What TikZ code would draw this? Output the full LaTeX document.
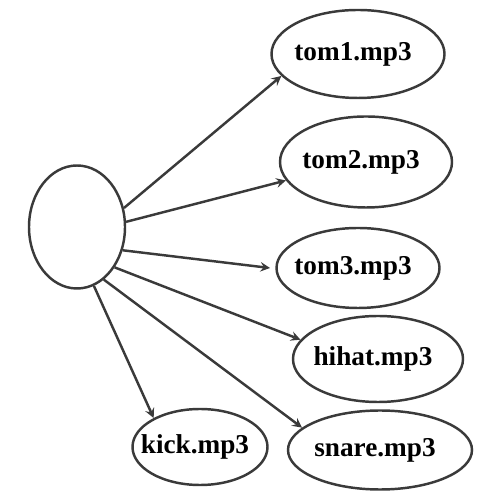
\documentclass[tikz,border=0pt]{standalone}
\usepackage{fontspec}
\setmainfont{Liberation Serif}
\usetikzlibrary{shapes.geometric, arrows}
\definecolor{edge}{HTML}{3A3A3A}
\newcommand{\sample}[1]{\makebox[0pt]{\bfseries\fontsize{15.5}{18}\selectfont #1\hspace{0.2cm}}}
\tikzstyle{kit} = [ellipse, draw=edge, line width=1.4pt, inner sep=0pt, text centered]
\tikzstyle{arrow} = [line width=1.4pt, draw=edge, ->, >=stealth]

\begin{document}
\begin{tikzpicture}
        \useasboundingbox (0,0) rectangle (10,10);
        \node[kit, minimum width=1.92cm, minimum height=2.46cm] (drum) at (1.54,5.46) {};
        \node[kit, minimum width=3.46cm, minimum height=1.76cm] (tom1) at (7.16,8.92) {\sample{tom1.mp3}};
        \node[kit, minimum width=3.44cm, minimum height=1.82cm] (tom2) at (7.32,6.76) {\sample{tom2.mp3}};
        \node[kit, minimum width=3.26cm, minimum height=1.60cm] (tom3) at (7.16,4.64) {\sample{tom3.mp3}};
        \node[kit, minimum width=3.40cm, minimum height=1.72cm] (hihat) at (7.56,2.82) {\sample{hihat.mp3}};
        \node[kit, minimum width=2.70cm, minimum height=1.52cm] (kick) at (4.00,1.06) {\sample{kick.mp3}};
        \node[kit, minimum width=3.68cm, minimum height=1.58cm] (snare) at (7.60,1.00) {\sample{snare.mp3}};
        \draw[arrow] (drum.22) -- (tom1.196);
        \draw[arrow] (drum.6) -- (tom2.193);
        \draw[arrow] (drum.-27) -- ([xshift=-3pt]tom3.180);
        \draw[arrow] (drum.-47) -- (hihat.166);
        \draw[arrow] (drum.-63) -- (snare.164);
        \draw[arrow] (drum.-74) -- (kick.148);
    \end{tikzpicture}
\end{document}
